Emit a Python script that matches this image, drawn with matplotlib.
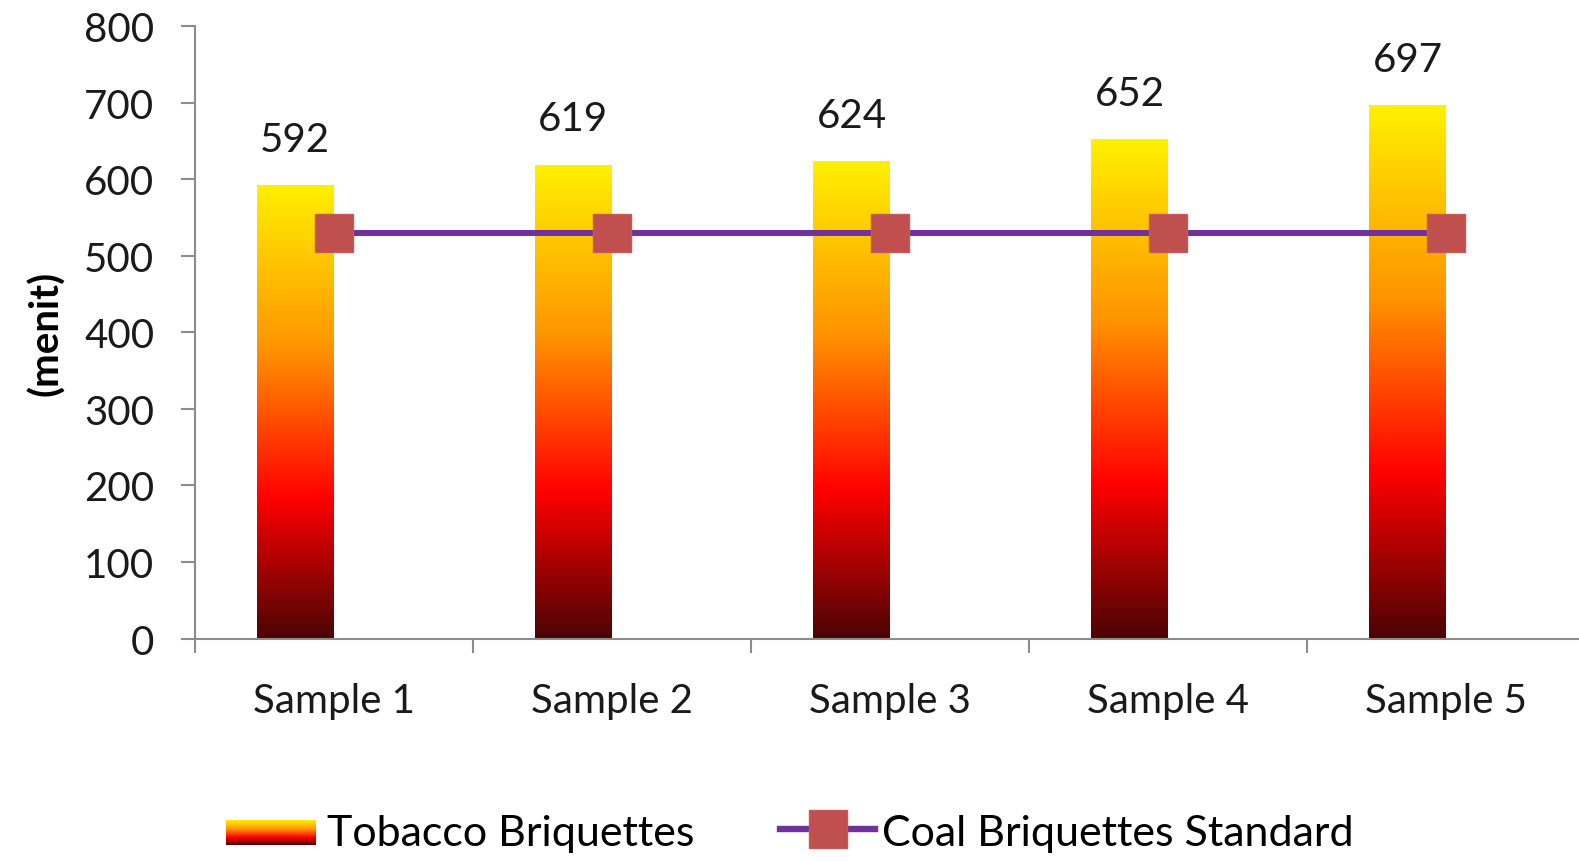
import numpy as np
import matplotlib
matplotlib.use('Agg')
import matplotlib.pyplot as plt
from matplotlib.colors import LinearSegmentedColormap
from matplotlib.legend_handler import HandlerBase
from matplotlib.image import BboxImage
from matplotlib.transforms import Bbox, TransformedBbox
from matplotlib.lines import Line2D
from matplotlib.patches import Rectangle

plt.rcParams['font.family'] = ['Lato', 'DejaVu Sans']

# data
samples = ['Sample 1', 'Sample 2', 'Sample 3', 'Sample 4', 'Sample 5']
tobacco = [592, 619, 624, 652, 697]
coal_standard = [530, 530, 530, 530, 530]
yticks = [0, 100, 200, 300, 400, 500, 600, 700, 800]

fire = LinearSegmentedColormap.from_list(
    'fire', [(0.0, '#4a0404'), (0.31, '#ff0000'), (0.64, '#ff9400'), (1.0, '#fff000')])
grad = np.linspace(0, 1, 256).reshape(-1, 1)


class HandlerGradient(HandlerBase):
    def create_artists(self, legend, orig_handle, xdescent, ydescent,
                       width, height, fontsize, trans):
        bb = TransformedBbox(Bbox.from_bounds(-xdescent, -ydescent,
                                              width * 0.95, height * 0.8), trans)
        img = BboxImage(bb, cmap=fire, interpolation='bilinear', origin='lower')
        img.set_data(grad)
        return [img]


fig = plt.figure(figsize=(15.79, 8.62), dpi=100)
ax = fig.add_axes([0.1232, 0.2581, 0.8806, 0.7103])

x = np.arange(len(samples))
bar_w = 0.275
for xi, v in zip(x, tobacco):
    ax.imshow(grad, cmap=fire, aspect='auto', origin='lower',
              extent=(xi - bar_w, xi, 0, v), interpolation='bilinear', zorder=2)
    ax.annotate(str(v), (xi - bar_w / 2, v), xytext=(0, 33), textcoords='offset points',
                ha='center', va='center', fontsize=29, color='#1a1a1a')

ax.plot(x, coal_standard, color='#7030a0', lw=4.3, marker='s', markersize=28,
        markerfacecolor='#c0504d', markeredgecolor='#c55a57', markeredgewidth=1, zorder=3)

ax.set_xlim(-0.5, len(samples) - 0.5)
ax.set_ylim(0, 800)
ax.set_yticks(yticks)
ax.set_xticks(x)
ax.set_xticklabels(samples)
ax.set_xticks(np.arange(-0.5, len(samples), 1.0), minor=True)
ax.tick_params(axis='x', which='major', length=0, pad=31, labelsize=29, labelcolor='#1a1a1a')
ax.tick_params(axis='x', which='minor', length=10, width=1.5, color='#8c8c8c', direction='out')
ax.tick_params(axis='y', length=10, width=1.5, color='#8c8c8c', pad=19, labelsize=29,
               labelcolor='#1a1a1a')
for s in ['top', 'right']:
    ax.spines[s].set_visible(False)
for s in ['left', 'bottom']:
    ax.spines[s].set_color('#8c8c8c')
    ax.spines[s].set_linewidth(1.5)
ax.set_ylabel('(menit)', fontsize=29, fontweight='bold', labelpad=14)

h1 = Rectangle((0, 0), 1, 1)
h2 = Line2D([], [], color='#7030a0', lw=4.6, marker='s', markersize=28,
            markerfacecolor='#c0504d', markeredgecolor='#c55a57')
fig.legend([h1, h2], ['Tobacco Briquettes', 'Coal Briquettes Standard'],
           handler_map={Rectangle: HandlerGradient()},
           loc='center', bbox_to_anchor=(0.5, 0.033), ncol=2, frameon=False,
           fontsize=31, handlelength=2.2, handletextpad=0.15, columnspacing=2.0)

fig.savefig('out.png', dpi=100)
